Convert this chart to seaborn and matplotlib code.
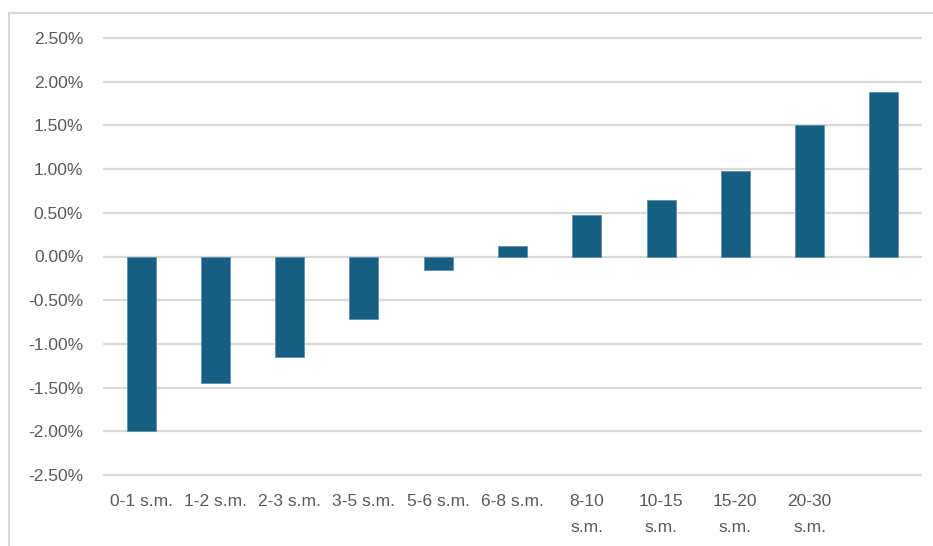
import matplotlib
matplotlib.use("Agg")
import matplotlib.pyplot as plt
from matplotlib.patches import Rectangle
from matplotlib.ticker import FuncFormatter
import seaborn as sns
import pandas as pd

# Size bands (square metres) and the change for each band, in percent
bands = ["0-1", "1-2", "2-3", "3-5", "5-6", "6-8", "8-10", "10-15", "15-20", "20-30", "30+"]
tick_labels = ["0-1 s.m.", "1-2 s.m.", "2-3 s.m.", "3-5 s.m.", "5-6 s.m.", "6-8 s.m.",
               "8-10\ns.m.", "10-15\ns.m.", "15-20\ns.m.", "20-30\ns.m.", ""]
change_pct = [-2.00, -1.45, -1.15, -0.72, -0.16, 0.12, 0.47, 0.65, 0.98, 1.51, 1.88]
y_ticks = [-2.5, -2.0, -1.5, -1.0, -0.5, 0.0, 0.5, 1.0, 1.5, 2.0, 2.5]

sns.set_theme(style="white")
plt.rcParams["font.family"] = ["Liberation Sans", "DejaVu Sans"]

df = pd.DataFrame({"band": bands, "change": change_pct})

fig = plt.figure(figsize=(9.33, 5.46), dpi=100)
ax = fig.add_axes([104 / 933, 1 - 475 / 546, (921 - 104) / 933, (475 - 38) / 546])

bar_color = "#165E82"
sns.barplot(data=df, x="band", y="change", color=bar_color, saturation=1,
            width=0.39, edgecolor="#5F8FAA", linewidth=0.6, ax=ax, zorder=3)

ax.set_ylim(-2.5, 2.5)
ax.set_xlim(-0.5, len(bands) - 0.5)
ax.set_yticks(y_ticks)
ax.yaxis.set_major_formatter(FuncFormatter(lambda v, _: f"{v:.2f}%"))
ax.set_xticks(range(len(bands)))
ax.set_xticklabels(tick_labels, linespacing=1.9, va="top")

text_color = "#595959"
ax.tick_params(axis="y", length=0, pad=15, labelsize=12.5, labelcolor=text_color)
ax.tick_params(axis="x", length=0, pad=14, labelsize=12.5, labelcolor=text_color)

ax.yaxis.grid(True, color="#D9D9D9", linewidth=1.6, zorder=0)
for gl in ax.get_ygridlines():
    gl.set_clip_on(False)
ax.set_axisbelow(True)
for s in ax.spines.values():
    s.set_visible(False)
ax.set_xlabel("")
ax.set_ylabel("")

# Light frame around the chart area
frame = Rectangle((9 / 933, -0.05), 1.1, 1 - 13 / 546 + 0.05, transform=fig.transFigure,
                  fill=False, edgecolor="#D9D9D9", linewidth=1.5)
fig.patches.append(frame)

fig.savefig("out.png", dpi=100)
